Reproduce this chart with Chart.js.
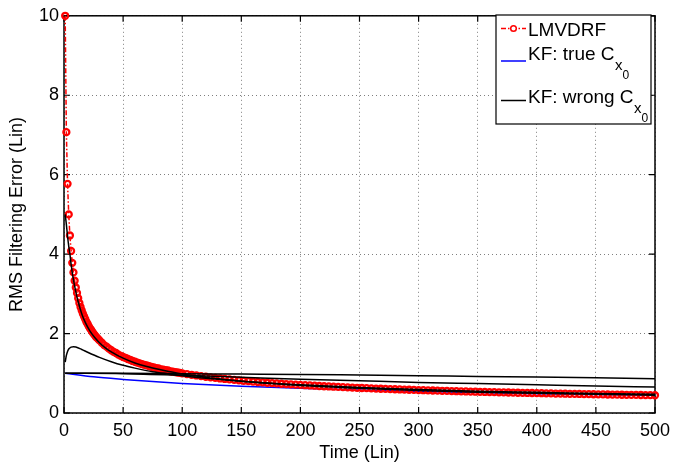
<!DOCTYPE html>
<html>
<head>
<meta charset="utf-8">
<script src="https://cdn.jsdelivr.net/npm/chart.js@4.4.1/dist/chart.umd.min.js"></script>
<style>
  html, body { margin: 0; padding: 0; background: #fff; }
</style>
</head>
<body>
<canvas id="rmsChart" width="697" height="470"></canvas>
<script>
// LMVDRF (red, dash-dot with circles)
const lmvdrfTime = [
  1, 2, 3, 4, 5, 6, 7, 8, 9, 10, 11, 12, 13, 14, 15, 16, 17, 18, 19, 20,
  21, 22, 23, 24, 25, 26, 27, 28, 29, 30,
  32, 34, 36, 38, 40, 42, 44, 46, 48, 50, 52, 54, 56, 58, 60, 62, 64, 66, 68, 70,
  72, 74, 76, 78, 80, 82, 84, 86, 88, 90, 92, 94, 96, 98, 100,
  104, 108, 112, 116, 120, 124, 128, 132, 136, 140, 144, 148, 152, 156, 160,
  164, 168, 172, 176, 180, 184, 188, 192, 196, 200, 204, 208, 212, 216, 220,
  224, 228, 232, 236, 240, 244, 248, 252, 256, 260, 264, 268, 272, 276, 280,
  284, 288, 292, 296, 300, 304, 308, 312, 316, 320, 324, 328, 332, 336, 340,
  344, 348, 352, 356, 360, 364, 368, 372, 376, 380, 384, 388, 392, 396, 400,
  404, 408, 412, 416, 420, 424, 428, 432, 436, 440, 444, 448, 452, 456, 460,
  464, 468, 472, 476, 480, 484, 488, 492, 496, 500
];
const lmvdrfRms = [
  10, 7.07, 5.77, 5.00, 4.47, 4.08, 3.78, 3.54, 3.33, 3.16, 3.02, 2.89, 2.77, 2.67, 2.58, 2.50, 2.43, 2.36, 2.29, 2.24,
  2.18, 2.13, 2.09, 2.04, 2.00, 1.96, 1.92, 1.89, 1.86, 1.83,
  1.77, 1.71, 1.67, 1.62, 1.58, 1.54, 1.51, 1.47, 1.44, 1.41, 1.39, 1.36, 1.34, 1.31, 1.29, 1.27, 1.25, 1.23, 1.21, 1.20,
  1.18, 1.16, 1.15, 1.13, 1.12, 1.10, 1.09, 1.08, 1.07, 1.05, 1.04, 1.03, 1.02, 1.01, 1.00,
  0.981, 0.962, 0.945, 0.928, 0.913, 0.898, 0.884, 0.870, 0.857, 0.845, 0.833, 0.822, 0.811, 0.801, 0.791,
  0.781, 0.772, 0.762, 0.754, 0.745, 0.737, 0.729, 0.722, 0.714, 0.707, 0.700, 0.693, 0.687, 0.680, 0.674,
  0.668, 0.662, 0.657, 0.651, 0.645, 0.640, 0.635, 0.630, 0.625, 0.620, 0.615, 0.611, 0.606, 0.602, 0.598,
  0.593, 0.589, 0.585, 0.581, 0.577, 0.574, 0.570, 0.566, 0.563, 0.559, 0.556, 0.552, 0.549, 0.546, 0.542,
  0.539, 0.536, 0.533, 0.530, 0.527, 0.524, 0.521, 0.518, 0.516, 0.513, 0.510, 0.508, 0.505, 0.503, 0.500,
  0.498, 0.495, 0.493, 0.490, 0.488, 0.486, 0.483, 0.481, 0.479, 0.477, 0.475, 0.472, 0.470, 0.468, 0.466,
  0.464, 0.462, 0.460, 0.458, 0.456, 0.455, 0.453, 0.451, 0.449, 0.447
];

// KF with true Cx0 (blue)
const kfTrueTime = [1, 25, 50, 75, 100, 150, 200, 250, 300, 350, 400, 450, 500];
const kfTrueRms  = [1.0, 0.91, 0.845, 0.79, 0.745, 0.674, 0.62, 0.577, 0.542, 0.513, 0.487, 0.466, 0.447];

// KF with wrong Cx0 (black), four runs
const wrongTimeA = [1, 2, 3, 4, 5, 6, 8, 10, 12, 15, 18, 22, 26, 30, 35, 40, 50, 60, 70, 80, 90, 100,
                    125, 150, 175, 200, 250, 300, 350, 400, 450, 500];
const wrongRmsA  = [5.0, 4.75, 4.45, 4.2, 4.0, 3.75, 3.35, 3.05, 2.8, 2.5, 2.28, 2.06, 1.9, 1.77, 1.64, 1.54,
                    1.38, 1.26, 1.17, 1.1, 1.04, 0.98, 0.88, 0.8, 0.74, 0.69, 0.62, 0.565, 0.525, 0.495, 0.47, 0.45];

const wrongTimeB = [1, 2, 3, 4, 6, 8, 10, 15, 20, 30, 40, 50, 60, 75, 90, 100, 125, 150, 200, 250, 300, 350, 400, 450, 500];
const wrongRmsB  = [1.28, 1.45, 1.55, 1.61, 1.66, 1.67, 1.66, 1.6, 1.53, 1.4, 1.29, 1.2, 1.13, 1.04, 0.98, 0.94,
                    0.86, 0.8, 0.71, 0.64, 0.59, 0.55, 0.52, 0.49, 0.47];

const wrongTimeC = [1, 50, 100, 150, 200, 250, 300, 350, 400, 450, 500];
const wrongRmsC  = [1.0, 1.0, 0.99, 0.98, 0.97, 0.955, 0.94, 0.92, 0.905, 0.885, 0.865];

const wrongTimeD = [1, 50, 100, 150, 200, 250, 300, 350, 400, 450, 500];
const wrongRmsD  = [1.0, 0.99, 0.95, 0.9, 0.85, 0.81, 0.77, 0.74, 0.71, 0.68, 0.655];

const xTicks = [0, 50, 100, 150, 200, 250, 300, 350, 400, 450, 500];
const yTicks = [0, 2, 4, 6, 8, 10];

const FONT = '"Liberation Sans", Arial, Helvetica, sans-serif';

function toPoints(xs, ys) {
    return xs.map((x, i) => ({ x: x, y: ys[i] }));
}

function wrongSet(xs, ys) {
    return {
        data: toPoints(xs, ys),
        borderColor: '#000',
        borderWidth: 1.5,
        pointRadius: 0,
        cubicInterpolationMode: 'monotone',
        order: 0
    };
}

// frame round the plot area, with the inward tick marks
const frame = {
    id: 'frame',
    beforeDatasetsDraw(chart) {
        const { ctx, chartArea: a, scales } = chart;
        ctx.save();
        ctx.strokeStyle = '#000';
        ctx.lineWidth = 1.2;
        ctx.beginPath();
        xTicks.forEach((v) => {
            const px = scales.x.getPixelForValue(v);
            ctx.moveTo(px, a.bottom); ctx.lineTo(px, a.bottom - 6);
            ctx.moveTo(px, a.top); ctx.lineTo(px, a.top + 6);
        });
        yTicks.forEach((v) => {
            const py = scales.y.getPixelForValue(v);
            ctx.moveTo(a.left, py); ctx.lineTo(a.left + 6, py);
            ctx.moveTo(a.right, py); ctx.lineTo(a.right - 6, py);
        });
        ctx.stroke();
        ctx.lineWidth = 1.5;
        ctx.strokeRect(a.left, a.top, a.right - a.left, a.bottom - a.top);
        ctx.restore();
    }
};

// legend box with subscripts
const legendBox = {
    id: 'legendBox',
    afterDraw(chart) {
        const ctx = chart.ctx;
        ctx.save();
        ctx.fillStyle = '#fff';
        ctx.fillRect(496, 15, 155, 109);
        ctx.strokeStyle = '#000';
        ctx.lineWidth = 1.2;
        ctx.strokeRect(496, 15, 155, 109);

        // LMVDRF sample
        ctx.strokeStyle = '#f00';
        ctx.lineWidth = 1.5;
        ctx.setLineDash([5, 2, 1.5, 2]);
        ctx.beginPath(); ctx.moveTo(501, 28.5); ctx.lineTo(526, 28.5); ctx.stroke();
        ctx.setLineDash([]);
        ctx.beginPath(); ctx.arc(513.5, 28.5, 2.8, 0, Math.PI * 2); ctx.fillStyle = '#fff'; ctx.fill(); ctx.stroke();

        ctx.strokeStyle = '#00f';
        ctx.beginPath(); ctx.moveTo(501, 61); ctx.lineTo(526, 61); ctx.stroke();
        ctx.strokeStyle = '#000';
        ctx.beginPath(); ctx.moveTo(501, 100.5); ctx.lineTo(526, 100.5); ctx.stroke();

        ctx.fillStyle = '#000';
        ctx.textBaseline = 'alphabetic';
        ctx.font = '19px ' + FONT;
        ctx.fillText('LMVDRF', 528, 36);

        const withSub = (label, y) => {
            ctx.font = '19px ' + FONT;
            ctx.fillText(label, 528, y);
            let x = 528 + ctx.measureText(label).width + 0.5;
            ctx.font = '15px ' + FONT;
            ctx.fillText('x', x, y + 10);
            x += ctx.measureText('x').width;
            ctx.font = '12px ' + FONT;
            ctx.fillText('0', x, y + 19);
        };
        withSub('KF: true C', 60);
        withSub('KF: wrong C', 103);
        ctx.restore();
    }
};

new Chart(document.getElementById('rmsChart'), {
    type: 'line',
    data: {
        datasets: [
            {
                label: 'LMVDRF',
                data: toPoints(lmvdrfTime, lmvdrfRms),
                borderColor: '#f00',
                borderWidth: 1.5,
                borderDash: [5, 2, 1.5, 2],
                pointRadius: 3,
                pointBorderWidth: 2.3,
                pointBorderColor: '#f00',
                pointBackgroundColor: 'rgba(255,255,255,0)',
                clip: false,
                order: 1
            },
            {
                label: 'KF: true Cx0',
                data: toPoints(kfTrueTime, kfTrueRms),
                borderColor: '#00f',
                borderWidth: 1.5,
                pointRadius: 0,
                cubicInterpolationMode: 'monotone',
                order: 2
            },
            wrongSet(wrongTimeA, wrongRmsA),
            wrongSet(wrongTimeB, wrongRmsB),
            wrongSet(wrongTimeC, wrongRmsC),
            wrongSet(wrongTimeD, wrongRmsD)
        ]
    },
    options: {
        responsive: false,
        animation: false,
        devicePixelRatio: 1,
        layout: { padding: { top: 11, right: 42, left: 0, bottom: 0 } },
        plugins: { legend: { display: false }, tooltip: { enabled: false } },
        scales: {
            x: {
                type: 'linear',
                min: 0,
                max: 500,
                afterFit: (s) => { s.height = 57; },
                afterBuildTicks: (s) => { s.ticks = xTicks.map((v) => ({ value: v })); },
                ticks: { color: '#000', font: { family: FONT, size: 18 }, padding: 7, maxRotation: 0 },
                grid: { color: 'rgba(0,0,0,0.5)', lineWidth: 1, drawTicks: false },
                border: { display: false, dash: [1, 3] },
                title: { display: true, text: 'Time (Lin)', color: '#000',
                         font: { family: FONT, size: 18 }, padding: { top: 0, bottom: 6 } }
            },
            y: {
                min: 0,
                max: 10,
                afterFit: (s) => { s.width = 64; },
                afterBuildTicks: (s) => { s.ticks = yTicks.map((v) => ({ value: v })); },
                ticks: { color: '#000', font: { family: FONT, size: 18 }, padding: 5 },
                grid: { color: 'rgba(0,0,0,0.5)', lineWidth: 1, drawTicks: false },
                border: { display: false, dash: [1, 3] },
                title: { display: true, text: 'RMS Filtering Error (Lin)', color: '#000',
                         font: { family: FONT, size: 18 }, padding: { top: 6, bottom: 0 } }
            }
        }
    },
    plugins: [frame, legendBox]
});
</script>
</body>
</html>
